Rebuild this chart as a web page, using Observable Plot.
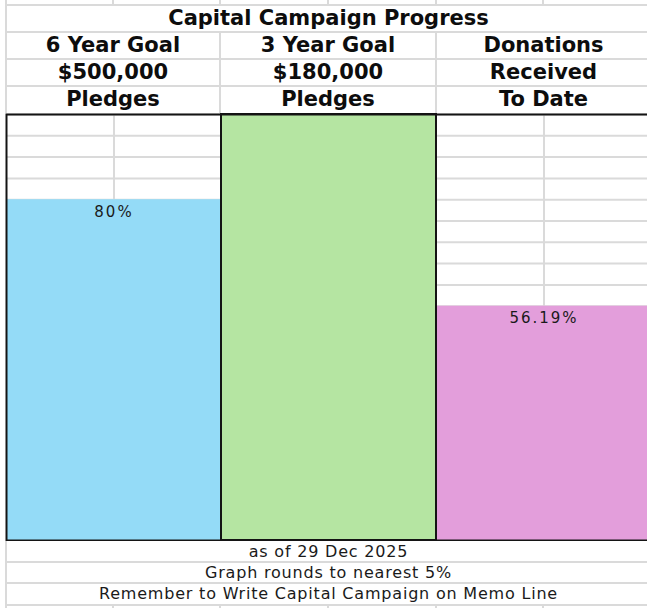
<!DOCTYPE html>
<html>
<head>
<meta charset="utf-8">
<script src="https://cdn.jsdelivr.net/npm/d3@7"></script>
<script src="https://cdn.jsdelivr.net/npm/@observablehq/plot@0.6"></script>
<style>
  body { margin: 0; background: #fff; }
  #wrap { position: relative; width: 647px; height: 608px; overflow: hidden; background: #fff; }
  .hl { position: absolute; height: 2px; background: #dadada; }
  .vl { position: absolute; width: 2px; background: #dadada; }
  .cell { position: absolute; text-align: center; white-space: nowrap; color: #0d0d0d; }
  .head { font-family: "DejaVu Sans", sans-serif; font-weight: bold; font-size: 21px; }
  .foot { font-family: "DejaVu Sans", sans-serif; font-size: 16px; letter-spacing: 0.8px; color: #1a1a1a; }
  #chart { position: absolute; left: 0; top: 113px; }
</style>
</head>
<body>
<div id="wrap"><div id="chart"></div></div>
<script>
// ---- data ----
const title = "Capital Campaign Progress";
const categories = ["6 Year Goal", "3 Year Goal", "Donations Received"];
const headerLine1 = ["6 Year Goal", "3 Year Goal", "Donations"];
const headerLine2 = ["$500,000", "$180,000", "Received"];
const headerLine3 = ["Pledges", "Pledges", "To Date"];
const percents = [80, 100, 56.19];
const barLabels = ["80%", "", "56.19%"];
const footerLines = [
  "as of 29 Dec 2025",
  "Graph rounds to nearest 5%",
  "Remember to Write Capital Campaign on Memo Line"
];
const barColors = ["#94dbf7", "#b5e5a2", "#e39edb"];

// ---- spreadsheet layout ----
const wrap = document.getElementById("wrap");
const colEdges = [6, 113, 220, 328, 436, 543];
const headRows = [5, 32, 59, 86, 113];
const footRows = [541, 562, 583, 605];
function el(cls, style, text) {
  const d = document.createElement("div");
  d.className = cls;
  Object.assign(d.style, style);
  if (text != null) d.textContent = text;
  wrap.appendChild(d);
  return d;
}
function hline(y, x0, x1) { el("hl", {top: (y - 1) + "px", left: x0 + "px", width: (x1 - x0) + "px"}); }
function vline(x, y0, y1) { el("vl", {left: (x - 1) + "px", top: y0 + "px", height: (y1 - y0) + "px"}); }

// grid lines outside chart
[5, 32, 59, 86].forEach(y => hline(y, 5, 647));
[562, 583, 605].forEach(y => hline(y, 5, 647));
vline(6, 0, 113);
vline(6, 541, 608);
colEdges.slice(1).forEach(x => { vline(x, 0, 5); vline(x, 605, 608); });
[220, 436].forEach(x => vline(x, 32, 113));

// header text
el("cell head", {left: "6px", width: "645px", top: "5px", height: "27px", lineHeight: "27px"}, title);
const headerCols = [[6, 220], [220, 436], [436, 651]];
[headerLine1, headerLine2, headerLine3].forEach((line, r) => {
  line.forEach((t, c) => {
    const [x0, x1] = headerCols[c];
    el("cell head", {left: x0 + "px", width: (x1 - x0) + "px", top: headRows[r + 1] + "px",
      height: "27px", lineHeight: "27px"}, t);
  });
});
// footer text
footerLines.forEach((t, r) => {
  const y0 = footRows[r], y1 = r + 1 < footRows.length ? footRows[r + 1] : 605;
  el("cell foot", {left: "6px", width: "645px", top: y0 + "px", height: (y1 - y0) + "px",
    lineHeight: (y1 - y0) + "px"}, t);
});

// ---- chart ----
const data = categories.map((c, i) => ({
  cat: c,
  pct: percents[i],
  shown: Math.round(percents[i] / 5) * 5,
  label: barLabels[i]
}));
const gridRows = d3.range(0, 101, 5);

const chart = Plot.plot({
  width: 647,
  height: 428,
  marginLeft: 6,
  marginRight: -4,
  marginTop: 1,
  marginBottom: 1,
  x: {type: "band", domain: categories, padding: 0, axis: null},
  y: {domain: [0, 100], axis: null},
  color: {domain: categories, range: barColors},
  style: {fontFamily: "DejaVu Sans", background: "transparent", overflow: "hidden"},
  marks: [
    Plot.ruleY(gridRows, {stroke: "#dadada", strokeWidth: 2}),
    Plot.ruleX(categories, {stroke: "#dadada", strokeWidth: 2}),
    Plot.barY(data, {x: "cat", y: "shown", fill: "cat", inset: 0}),
    Plot.barY(data.filter(d => d.shown >= 100), {x: "cat", y: "shown", fill: "cat", inset: 0,
      stroke: "#141414", strokeWidth: 2}),
    Plot.text(data, {x: "cat", y: "shown", text: "label", dy: 12, fontSize: 15, fill: "#1a1a1a"}),
    Plot.frame({stroke: "#141414", strokeWidth: 2})
  ]
});
chart.style.letterSpacing = "2px";
document.getElementById("chart").appendChild(chart);
</script>
</body>
</html>
